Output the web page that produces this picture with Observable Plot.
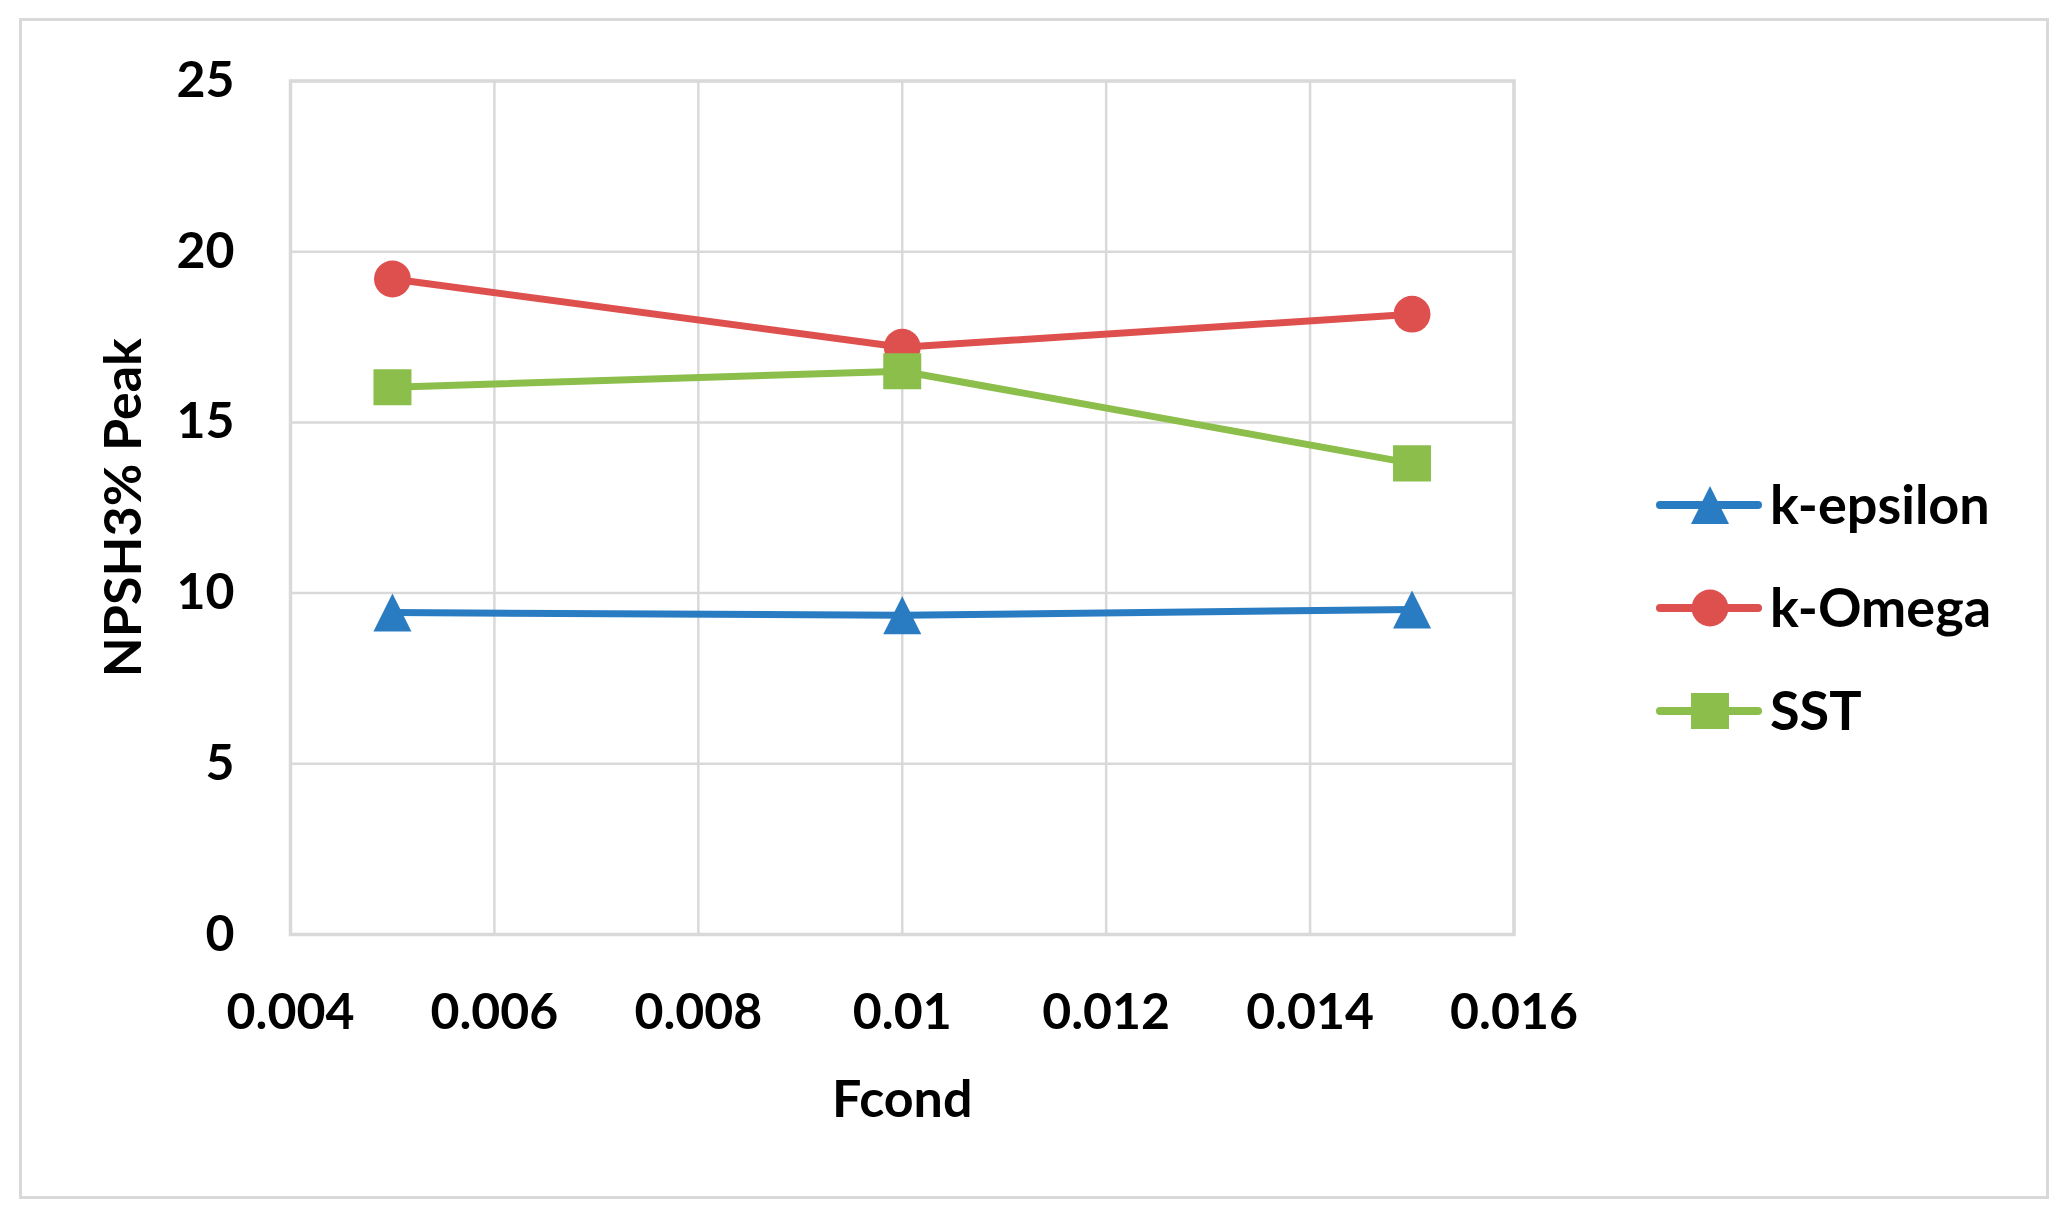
<!DOCTYPE html>
<html><head><meta charset="utf-8">
<script src="https://cdn.jsdelivr.net/npm/d3@7"></script>
<script src="https://cdn.jsdelivr.net/npm/@observablehq/plot@0.6"></script>
<style>
html,body{margin:0;padding:0;background:#fff;}
#wrap{position:relative;width:2069px;height:1223px;overflow:hidden;font-family:Lato,"Open Sans",sans-serif;}
#border{position:absolute;left:19px;top:18px;width:2030px;height:1181px;border:3px solid #d9d9d9;box-sizing:border-box;pointer-events:none;}
#chart{position:absolute;left:0;top:0;}
#legend{position:absolute;left:1640px;top:440px;}
</style></head>
<body>
<div id="wrap"><div id="chart"></div><div id="legend"></div><div id="border"></div></div>
<script>
// ---- data ----
const fcond = [0.005, 0.01, 0.015];
const kEpsilon = [9.43, 9.35, 9.52];
const kOmega = [19.2, 17.2, 18.17];
const sst = [16.03, 16.5, 13.8];
const seriesNames = ["k-epsilon", "k-Omega", "SST"];
const seriesColors = ["#2a7cc2", "#de504e", "#8cbe4b"];
const xTicks = [0.004, 0.006, 0.008, 0.01, 0.012, 0.014, 0.016];
const yTicks = [0, 5, 10, 15, 20, 25];
const xLabel = "Fcond";
const yLabel = "NPSH3% Peak";

const seriesValues = [kEpsilon, kOmega, sst];
const rows = [];
seriesNames.forEach((name, i) => fcond.forEach((f, j) => rows.push({series: name, x: f, y: seriesValues[i][j]})));

// custom symbols
const triSym = {draw(ctx, size){const r=Math.sqrt(size/Math.PI); ctx.moveTo(0,-r); ctx.lineTo(r,r); ctx.lineTo(-r,r); ctx.closePath();}};
const sqSym = {draw(ctx, size){const r=Math.sqrt(size/Math.PI); ctx.rect(-r,-r*0.95,2*r,1.9*r);}};
const cirSym = {draw(ctx, size){const r=Math.sqrt(size/Math.PI)*0.97; ctx.moveTo(r,0); ctx.arc(0,0,r,0,2*Math.PI);}};
const symbols = [triSym, cirSym, sqSym];

const font = "Lato, 'Open Sans', sans-serif";
const seriesMarks = seriesNames.flatMap((name, i) => {
  const d = rows.filter(r => r.series === name);
  return [
    Plot.line(d, {x: "x", y: "y", stroke: seriesColors[i], strokeWidth: 7, strokeLinejoin: "round"}),
    Plot.dot(d, {x: "x", y: "y", r: 19, symbol: symbols[i], fill: seriesColors[i], stroke: "none"})
  ];
});

const chart = Plot.plot({
  width: 2069,
  height: 1223,
  marginLeft: 290,
  marginRight: 555.5,
  marginTop: 80.5,
  marginBottom: 289,
  style: {fontFamily: font, fontWeight: "bold", fontSize: "50px", color: "#000", background: "#fff"},
  x: {domain: [0.004, 0.016]},
  y: {domain: [0, 25]},
  marks: [
    Plot.gridX(xTicks, {stroke: "#d9d9d9", strokeOpacity: 1, strokeWidth: 2.5}),
    Plot.gridY(yTicks, {stroke: "#d9d9d9", strokeOpacity: 1, strokeWidth: 2.5}),
    Plot.frame({stroke: "#d9d9d9", strokeWidth: 3.5}),
    Plot.axisX(xTicks, {tickSize: 0, tickPadding: 59, fontSize: 50, fontWeight: "bold", label: null, tickFormat: d => String(+d.toFixed(3))}),
    Plot.axisY(yTicks, {tickSize: 0, tickPadding: 56, fontSize: 50, fontWeight: "bold", label: null}),
    ...seriesMarks,
    Plot.text([xLabel], {text: d => d, frameAnchor: "bottom", dy: 182, textAnchor: "middle", fontSize: 52, fontWeight: "bold", fill: "#000"}),
    Plot.text([yLabel], {text: d => d, frameAnchor: "left", dx: -166, rotate: -90, textAnchor: "middle", fontSize: 52, fontWeight: "bold", fill: "#000"})
  ]
});
document.getElementById("chart").appendChild(chart);

// ---- legend ----
const lg = d3.select("#legend").append("svg").attr("width", 420).attr("height", 320);
const rowY = [65, 168, 271];
seriesNames.forEach((name, i) => {
  const g = lg.append("g").attr("transform", `translate(0,${rowY[i]})`);
  g.append("line").attr("x1", 20).attr("x2", 118).attr("y1", 0).attr("y2", 0)
    .attr("stroke", seriesColors[i]).attr("stroke-width", 8).attr("stroke-linecap", "round");
  g.append("path").attr("transform", "translate(70,0)")
    .attr("d", d3.symbol(symbols[i], Math.PI * 19 * 19)()).attr("fill", seriesColors[i]);
  g.append("text").attr("x", 130).attr("y", 19).text(name)
    .attr("font-family", font).attr("font-weight", "bold").attr("font-size", 54).attr("fill", "#000");
});
</script>
</body></html>
